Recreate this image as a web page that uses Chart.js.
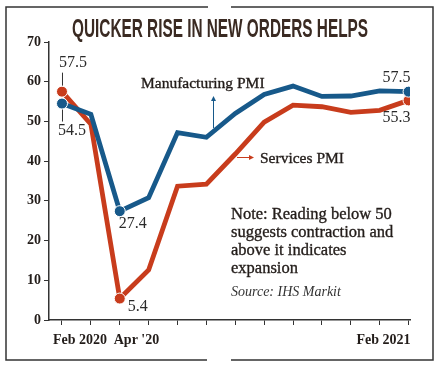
<!DOCTYPE html>
<html>
<head>
<meta charset="utf-8">
<script src="https://cdn.jsdelivr.net/npm/chart.js@4/dist/chart.umd.min.js"></script>
<style>
  html, body { margin: 0; padding: 0; background: #fff; }
  #wrap { width: 439px; height: 366px; position: relative; }
</style>
</head>
<body>
<div id="wrap"><canvas id="myChart" width="439" height="366"></canvas></div>
<script>
// data
const months = ["Feb 2020", "Mar", "Apr '20", "May", "Jun", "Jul", "Aug", "Sep", "Oct", "Nov", "Dec", "Jan", "Feb 2021"];
const manufacturing = [54.5, 51.8, 27.4, 30.8, 47.2, 46.0, 52.0, 56.8, 58.9, 56.3, 56.4, 57.7, 57.5];
const services = [57.5, 49.3, 5.4, 12.6, 33.7, 34.2, 41.8, 49.8, 54.1, 53.7, 52.3, 52.8, 55.3];
const shownMonths = ["Feb 2020", "Apr '20", "Feb 2021"];

const BLUE = "#17598a";
const RED = "#c83c1c";
const INK = "#231d1a";
const SERIF = "'Liberation Serif', 'DejaVu Serif', serif";

// only first, Apr and last get a dot
const dotIdx = [0, 2, 12];
const radii = months.map((m, i) => (dotIdx.includes(i) ? 5.5 : 0));

const toPoints = (arr) => arr.map((v, i) => ({ x: i, y: v }));

// slightly heavier than regular, like the print font
function heavyText(ctx, txt, x, y) {
  ctx.fillText(txt, x, y);
  ctx.strokeText(txt, x, y);
}

const frame = {
  id: "frame",
  afterDraw(chart) {
    const ctx = chart.ctx;
    const x = chart.scales.x;
    const y = chart.scales.y;
    ctx.save();

    // border box with gaps top and bottom
    ctx.strokeStyle = "#333";
    ctx.lineWidth = 1.5;
    ctx.beginPath();
    ctx.moveTo(208, 7); ctx.lineTo(6, 7); ctx.lineTo(6, 360); ctx.lineTo(207, 360);
    ctx.moveTo(231, 7); ctx.lineTo(433, 7); ctx.lineTo(433, 360); ctx.lineTo(231, 360);
    ctx.stroke();

    // title, condensed
    ctx.fillStyle = "#3a2a22";
    ctx.font = "bold 25px 'Liberation Sans', sans-serif";
    ctx.textBaseline = "alphabetic";
    const title = "QUICKER RISE IN NEW ORDERS HELPS";
    const tw = ctx.measureText(title).width;
    ctx.save();
    ctx.translate(72, 37);
    ctx.scale(296 / tw, 1);
    ctx.fillText(title, 0, 0);
    ctx.restore();

    const px = (i) => x.getPixelForValue(i);
    const pm = (i) => y.getPixelForValue(manufacturing[i]);
    const ps = (i) => y.getPixelForValue(services[i]);

    // x labels
    ctx.fillStyle = INK;
    ctx.font = "bold 14px " + SERIF;
    ctx.textAlign = "left";
    ctx.fillText(shownMonths[0], px(0) - 9, 344);
    ctx.fillText(shownMonths[1], px(2) - 6, 344);
    ctx.textAlign = "right";
    ctx.fillText(shownMonths[2], px(12) + 2, 344);

    // value labels
    ctx.font = "16px " + SERIF;
    ctx.fillStyle = "#2a2a2a";
    ctx.textAlign = "left";
    ctx.fillText(services[0].toFixed(1), px(0) - 3, ps(0) - 25);
    ctx.fillText(manufacturing[0].toFixed(1), px(0) - 4, pm(0) + 31);
    ctx.fillText(manufacturing[2].toFixed(1), px(2) - 1, pm(2) + 17);
    ctx.fillText(services[2].toFixed(1), px(2) + 8, ps(2) + 12);
    ctx.textAlign = "right";
    ctx.fillText(manufacturing[12].toFixed(1), px(12) + 2, pm(12) - 10);
    ctx.fillText(services[12].toFixed(1), px(12) + 2, ps(12) + 22);

    // leader lines
    ctx.strokeStyle = "#333";
    ctx.lineWidth = 1;
    ctx.beginPath();
    ctx.moveTo(px(0) + 0.5, ps(0) - 6); ctx.lineTo(px(0) + 0.5, ps(0) - 19);
    ctx.moveTo(px(0) + 0.5, pm(0) + 6); ctx.lineTo(px(0) + 0.5, pm(0) + 18);
    ctx.stroke();

    // series names with arrows
    ctx.font = "15.5px " + SERIF;
    ctx.textAlign = "left";
    ctx.fillStyle = INK;
    ctx.strokeStyle = INK;
    ctx.lineWidth = 0.35;
    heavyText(ctx, "Manufacturing PMI", 141, 88);
    heavyText(ctx, "Services PMI", 260, 163);

    ctx.lineWidth = 1;
    ctx.strokeStyle = BLUE;
    ctx.fillStyle = BLUE;
    ctx.beginPath();
    ctx.moveTo(213.5, 128); ctx.lineTo(213.5, 99);
    ctx.stroke();
    ctx.beginPath();
    ctx.moveTo(213.5, 96); ctx.lineTo(211, 101); ctx.lineTo(216, 101); ctx.closePath();
    ctx.fill();

    ctx.strokeStyle = RED;
    ctx.fillStyle = RED;
    ctx.beginPath();
    ctx.moveTo(237, 157.5); ctx.lineTo(251, 157.5);
    ctx.stroke();
    ctx.beginPath();
    ctx.moveTo(254, 157.5); ctx.lineTo(249, 155); ctx.lineTo(249, 160); ctx.closePath();
    ctx.fill();

    // note
    ctx.fillStyle = INK;
    ctx.strokeStyle = INK;
    ctx.lineWidth = 0.35;
    ctx.font = "16.5px " + SERIF;
    const note = ["Note: Reading below 50", "suggests contraction and", "above it indicates", "expansion"];
    note.forEach((line, i) => heavyText(ctx, line, 231, 219 + i * 18));
    ctx.font = "italic 14px " + SERIF;
    ctx.fillStyle = "#333";
    ctx.fillText("Source: IHS Markit", 231, 296);

    ctx.restore();
  },
};

new Chart(document.getElementById("myChart"), {
  type: "line",
  data: {
    datasets: [
      {
        label: "Manufacturing PMI",
        data: toPoints(manufacturing),
        borderColor: BLUE,
        backgroundColor: BLUE,
        borderWidth: 4.8,
        pointRadius: radii,
        pointBorderWidth: 1,
        pointBorderColor: "#fff",
        pointBackgroundColor: BLUE,
        tension: 0,
      },
      {
        label: "Services PMI",
        data: toPoints(services),
        borderColor: RED,
        backgroundColor: RED,
        borderWidth: 4.8,
        pointRadius: radii,
        pointBorderWidth: 1,
        pointBorderColor: "#fff",
        pointBackgroundColor: RED,
        tension: 0,
      },
    ],
  },
  options: {
    responsive: false,
    animation: false,
    layout: { padding: { top: 42, right: 29, left: 0, bottom: 0 } },
    plugins: {
      legend: { display: false },
      tooltip: { enabled: false },
    },
    scales: {
      x: {
        type: "linear",
        min: -0.45,
        max: 12.05,
        grid: { drawOnChartArea: false, tickLength: 5, color: "#333", lineWidth: 1 },
        border: { color: "#333", width: 1.5 },
        ticks: { callback: () => "", autoSkip: false, maxRotation: 0 },
        afterBuildTicks(scale) {
          scale.ticks = months.map((m, i) => ({ value: i }));
        },
        afterFit(scale) { scale.height = 46; },
      },
      y: {
        min: 0,
        max: 70,
        grid: { drawOnChartArea: false, tickLength: 5, color: "#333", lineWidth: 1 },
        border: { color: "#333", width: 1.5 },
        ticks: {
          stepSize: 10,
          padding: 3,
          color: INK,
          font: { family: SERIF, size: 14, weight: "bold" },
        },
        afterFit(scale) { scale.width = 49; },
      },
    },
  },
  plugins: [frame],
});
</script>
</body>
</html>
